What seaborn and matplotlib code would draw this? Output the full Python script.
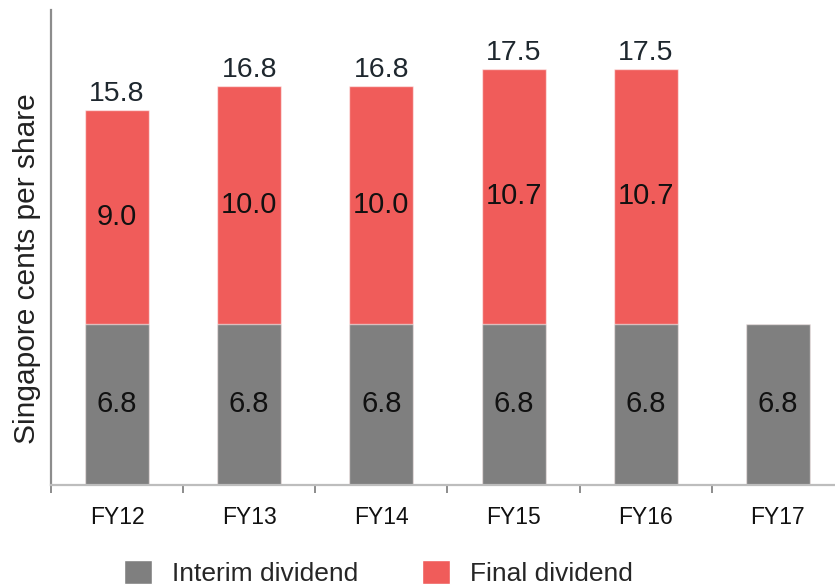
import matplotlib
matplotlib.use("Agg")
import matplotlib.pyplot as plt
from matplotlib.patches import Patch
import seaborn as sns
import pandas as pd

# Dividend per share by financial year (Singapore cents)
years = ["FY12", "FY13", "FY14", "FY15", "FY16", "FY17"]
interim = [6.8, 6.8, 6.8, 6.8, 6.8, 6.8]
final = [9.0, 10.0, 10.0, 10.7, 10.7, None]
totals = [15.8, 16.8, 16.8, 17.5, 17.5, None]

GREY = "#7f7f7f"
RED = "#f05c5a"

sns.set_theme(style="white")
plt.rcParams["font.family"] = ["Liberation Sans", "DejaVu Sans"]

df = pd.DataFrame({
    "year": years,
    "interim": interim,
    "final": [f if f is not None else 0.0 for f in final],
})
df["stack"] = df["interim"] + df["final"]

fig = plt.figure(figsize=(8.35, 5.87), dpi=100)
ax = fig.add_axes([51 / 835, 102 / 587, 793 / 835, 475 / 587])

bar_kw = dict(width=0.484, edgecolor=(1, 1, 1, 0.55), linewidth=1.0)
# Full stack height in red, interim portion drawn on top in grey
sns.barplot(data=df, x="year", y="stack", color=RED, saturation=1, ax=ax, **bar_kw)
sns.barplot(data=df, x="year", y="interim", color=GREY, saturation=1, ax=ax, **bar_kw)

ax.set_ylim(0, 20)
ax.set_xlim(-0.5, 5.5)

# Value labels
for i, (iv, fv, tv) in enumerate(zip(interim, final, totals)):
    ax.text(i, iv / 2, f"{iv:.1f}", ha="center", va="center",
            fontsize=21, color="#111111")
    if fv is not None:
        ax.text(i, iv + fv / 2, f"{fv:.1f}", ha="center", va="center",
                fontsize=21, color="#111111")
    if tv is not None:
        ax.annotate(f"{tv:.1f}", (i, tv), xytext=(0, 6.5), textcoords="offset points",
                    ha="center", va="baseline", fontsize=20.5, color="#1e272e")

# Axes styling
for side in ("top", "right"):
    ax.spines[side].set_visible(False)
ax.spines["left"].set_color("#8c8c8c")
ax.spines["left"].set_linewidth(1.6)
ax.spines["bottom"].set_color("#bdbdbd")
ax.spines["bottom"].set_linewidth(1.6)

ax.set_yticks([])
ax.set_xticks(range(len(years)))
ax.set_xticklabels(years)
ax.tick_params(axis="x", which="major", length=0, pad=15, labelsize=16.5, labelcolor="#111111")
ax.set_xticks([i - 0.5 for i in range(len(years) + 1)], minor=True)
ax.tick_params(axis="x", which="minor", direction="out", length=6, width=1.4,
               color="#8c8c8c", bottom=True)
ax.set_xlabel("")

ax.set_ylabel("Singapore cents per share", fontsize=21.5, color="#222222")
ax.yaxis.set_label_coords(-0.012, 0.455)

handles = [Patch(facecolor=GREY, label="Interim dividend"),
           Patch(facecolor=RED, label="Final dividend")]
fig.legend(handles=handles, loc="center left", bbox_to_anchor=(124 / 835, 1 - 573 / 587),
           ncol=2, frameon=False, fontsize=19, handlelength=1.06, handleheight=1.06,
           handletextpad=0.76, columnspacing=2.4, borderpad=0, borderaxespad=0)

fig.savefig("out.png", dpi=100)
